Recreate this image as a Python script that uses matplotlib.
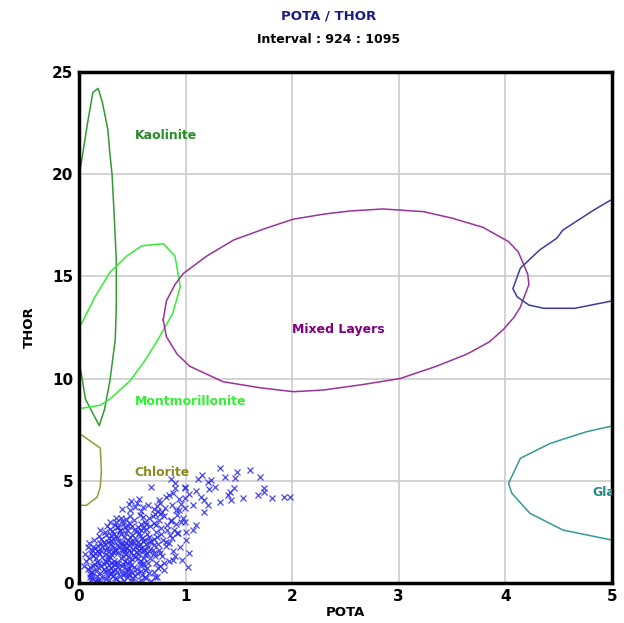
from matplotlib import pyplot as plt

# zone outlines (POTA, THOR)
kaol_x = [-0.05, 0.02, 0.08, 0.13, 0.18, 0.22, 0.27, 0.29, 0.31, 0.33, 0.35, 0.35, 0.34, 0.29, 0.24, 0.19, 0.14, 0.06, 0.02, -0.05, -0.05]
kaol_y = [19.0, 20.5, 22.5, 24.0, 24.2, 23.5, 22.2, 21.0, 20.0, 18.0, 15.8, 13.5, 11.9, 9.9, 8.5, 7.7, 8.2, 9.0, 10.3, 12.0, 19.0]

mont_x = [-0.05, 0.025, 0.15, 0.29, 0.45, 0.59, 0.79, 0.90, 0.95, 0.88, 0.74, 0.62, 0.48, 0.29, 0.20, 0.025, -0.05]
mont_y = [12.3, 12.7, 14.0, 15.2, 16.0, 16.5, 16.6, 16.0, 14.5, 13.2, 11.9, 10.9, 9.9, 9.0, 8.7, 8.55, 8.6]

chlo_x = [-0.05, 0.025, 0.20, 0.21, 0.20, 0.17, 0.07, -0.05]
chlo_y = [7.3, 7.24, 6.6, 5.5, 4.7, 4.2, 3.8, 3.8]

mixed_x = [0.79, 0.82, 0.90, 0.98, 1.20, 1.45, 1.75, 2.01, 2.30, 2.54, 2.85, 3.23, 3.50, 3.79, 4.03, 4.12, 4.17, 4.21, 4.22,
           4.14, 4.08, 3.98, 3.85, 3.64, 3.35, 3.01, 2.65, 2.29, 2.01, 1.70, 1.35, 1.04, 0.92, 0.82, 0.79]
mixed_y = [12.87, 13.8, 14.6, 15.15, 16.0, 16.78, 17.35, 17.8, 18.05, 18.2, 18.3, 18.17, 17.85, 17.4, 16.7, 16.2, 15.6, 15.1, 14.6,
           13.5, 13.0, 12.4, 11.8, 11.2, 10.6, 10.0, 9.7, 9.44, 9.36, 9.55, 9.85, 10.6, 11.2, 12.05, 12.87]

illi_x = [5.3, 5.0, 4.83, 4.54, 4.48, 4.32, 4.14, 4.07, 4.11, 4.22, 4.36, 4.65, 5.0, 5.3]
illi_y = [20.0, 18.77, 18.25, 17.27, 16.86, 16.29, 15.4, 14.4, 14.0, 13.6, 13.44, 13.44, 13.8, 14.2]

glau_x = [5.3, 5.0, 4.76, 4.42, 4.14, 4.03, 4.06, 4.23, 4.54, 5.0, 5.3]
glau_y = [8.0, 7.68, 7.4, 6.83, 6.1, 4.88, 4.39, 3.41, 2.59, 2.1, 1.8]

# log samples
pota = [0.15, 0.22, 0.28, 0.35, 0.42, 0.50, 0.58, 0.20, 0.32, 0.45, 0.55, 0.62, 0.68, 0.73, 0.38, 0.26, 0.12, 0.48,
        0.05, 0.08, 0.12, 0.18, 0.24, 0.30, 0.36, 0.40, 0.46, 0.52, 0.58, 0.64, 0.70, 0.76, 0.20, 0.28, 0.34, 0.43, 0.50, 0.60, 0.14, 0.10, 0.66, 0.80,
        0.07, 0.13, 0.17, 0.22, 0.27, 0.31, 0.35, 0.39, 0.44, 0.48, 0.53, 0.57, 0.62, 0.67, 0.72, 0.78, 0.84, 0.25, 0.33, 0.41, 0.50, 0.60, 0.16, 0.46, 0.55, 0.70, 0.90,
        0.08, 0.12, 0.18, 0.21, 0.26, 0.30, 0.34, 0.38, 0.43, 0.47, 0.51, 0.56, 0.60, 0.65, 0.70, 0.75, 0.82, 0.88, 0.24, 0.32, 0.40, 0.45, 0.54, 0.63, 0.15, 0.28, 0.58, 0.69, 0.95,
        0.14, 0.19, 0.23, 0.28, 0.33, 0.37, 0.42, 0.46, 0.50, 0.55, 0.59, 0.64, 0.68, 0.73, 0.79, 0.85, 0.30, 0.39, 0.48, 0.57, 0.62, 0.66, 0.25, 0.82,
        0.20, 0.26, 0.31, 0.36, 0.41, 0.45, 0.50, 0.54, 0.58, 0.63, 0.67, 0.72, 0.77, 0.83, 0.89, 0.47, 0.60, 0.70, 0.38, 0.55,
        0.29, 0.35, 0.40, 0.48, 0.52, 0.57, 0.62, 0.66, 0.71, 0.75, 0.80, 0.86, 0.92, 0.44, 0.60, 0.78, 0.98,
        0.40, 0.47, 0.53, 0.58, 0.65, 0.70, 0.76, 0.81, 0.87, 0.91, 0.96, 0.73,
        0.49, 0.56, 0.75, 0.82, 0.88, 0.94, 0.90, 0.86, 1.03, 1.10, 1.12,
        0.19, 0.23, 0.29, 0.37, 0.41, 0.47, 0.52, 0.21, 0.35, 0.44, 0.11, 0.09, 0.27, 0.33, 0.38, 0.53, 0.17, 0.25, 0.31, 0.44, 0.56, 0.61, 0.36, 0.26, 0.49, 0.42, 0.32, 0.38, 0.53,
        1.32, 1.48, 1.60, 1.70, 1.15, 1.37, 1.46, 1.74, 1.74, 1.68, 1.81, 1.92, 1.98, 1.54, 1.43, 1.40, 1.45, 1.42, 1.32, 1.21, 1.24, 1.28, 1.22, 1.14, 1.17, 1.21, 1.17,
        0.99, 0.99, 1.07, 0.99, 1.10, 1.07, 0.99, 1.00,
        0.68, 0.84, 0.90, 0.99, 0.54, 0.48, 0.60, 0.76, 0.72, 0.86, 0.94, 0.92, 1.00, 1.03, 1.02, 0.88, 0.76, 0.84, 0.97, 0.71, 0.54, 0.63, 0.13, 0.10, 0.11, 0.19, 0.35, 0.37,
        0.11, 0.16, 0.21, 0.24, 0.29, 0.33, 0.37, 0.40, 0.43, 0.46, 0.49, 0.51, 0.54, 0.57, 0.59, 0.61, 0.65, 0.67, 0.71, 0.74,
        0.18, 0.22, 0.27, 0.31, 0.36, 0.40, 0.44, 0.48, 0.52, 0.56, 0.60, 0.64, 0.13, 0.15, 0.20, 0.24, 0.29, 0.34, 0.39, 0.43,
        0.06, 0.09, 0.10, 0.17, 0.23, 0.30, 0.34, 0.39, 0.42, 0.45, 0.50, 0.53, 0.57, 0.62, 0.66, 0.70, 0.74, 0.77, 0.80, 0.83,
        0.87, 0.91, 0.93, 0.96, 0.27, 0.32, 0.37, 0.41, 0.47, 0.51, 0.55, 0.35, 0.19, 0.25, 0.30, 0.46, 0.58, 0.63, 0.69, 0.74]
thor = [0.10, 0.30, 0.15, 0.20, 0.10, 0.25, 0.15, 0.05, 0.35, 0.30, 0.05, 0.30, 0.12, 0.30, 0.05, 0.40, 0.25, 0.40,
        0.85, 0.70, 0.55, 0.80, 0.60, 0.75, 0.55, 0.85, 0.65, 0.80, 0.60, 0.75, 0.55, 0.85, 0.50, 0.90, 0.70, 0.50, 0.55, 0.90, 0.95, 0.45, 0.50, 0.65,
        1.10, 1.30, 1.05, 1.25, 1.15, 1.35, 1.00, 1.20, 1.40, 1.05, 1.25, 1.10, 1.35, 1.20, 1.00, 1.30, 1.10, 1.40, 1.10, 1.30, 1.15, 1.00, 1.20, 1.25, 1.40, 1.45, 1.30,
        1.75, 1.60, 1.80, 1.55, 1.70, 1.90, 1.60, 1.75, 1.55, 1.85, 1.65, 1.80, 1.55, 1.75, 1.85, 1.60, 1.80, 1.55, 1.90, 1.50, 1.90, 1.70, 1.50, 1.90, 1.70, 1.55, 1.70, 1.60, 1.75,
        2.10, 2.30, 2.00, 2.20, 2.40, 2.05, 2.25, 2.10, 2.35, 2.00, 2.20, 2.40, 2.05, 2.25, 2.10, 2.35, 2.05, 2.40, 2.00, 2.30, 2.10, 2.25, 2.35, 2.00,
        2.60, 2.80, 2.55, 2.75, 2.90, 2.60, 2.80, 2.55, 2.90, 2.65, 2.80, 2.50, 2.70, 2.85, 2.60, 2.95, 2.70, 2.95, 2.55, 2.75,
        3.00, 3.20, 3.05, 3.30, 3.10, 3.35, 3.00, 3.20, 3.40, 3.10, 3.30, 3.05, 3.35, 3.15, 3.25, 3.45, 3.20,
        3.60, 3.85, 3.70, 3.50, 3.80, 3.60, 3.90, 3.65, 3.80, 3.55, 3.85, 3.75,
        4.00, 4.10, 4.05, 4.20, 4.40, 4.10, 4.90, 5.10, 4.35, 4.50, 5.10,
        1.45, 0.95, 1.25, 1.45, 0.95, 0.75, 1.95, 2.15, 2.30, 1.95, 1.45, 1.95, 0.65, 0.95, 0.35, 0.35, 0.35, 0.20, 0.50, 0.70, 1.60, 1.20, 1.85, 1.05, 1.50, 1.65, 2.15, 2.60, 2.20,
        5.61, 5.45, 5.53, 5.20, 5.28, 5.20, 5.12, 4.63, 4.47, 4.30, 4.14, 4.22, 4.22, 4.14, 4.06, 4.30, 4.63, 4.47, 3.98, 4.96, 5.04, 4.71, 4.60, 4.22, 4.06, 3.82, 3.49,
        4.63, 4.14, 3.82, 3.66, 2.84, 2.59, 3.00, 2.50,
        4.71, 4.30, 4.63, 4.71, 3.90, 3.57, 3.74, 3.40, 2.84, 3.09, 3.58, 2.44, 2.10, 1.46, 0.80, 1.13, 1.46, 1.95, 1.13, 0.31, 0.47, 0.23, 1.77, 0.80, 0.47, 0.15, 3.00, 2.75,
        0.15, 0.60, 0.85, 1.10, 0.45, 1.55, 0.80, 1.55, 1.10, 0.45, 0.90, 1.35, 0.70, 1.90, 0.40, 1.65, 1.00, 2.00, 1.30, 0.75,
        1.55, 1.75, 2.00, 1.80, 2.20, 2.00, 2.45, 2.25, 2.60, 2.45, 2.05, 1.45, 0.85, 1.45, 1.95, 2.50, 2.65, 2.85, 3.20, 2.75,
        1.40, 1.20, 0.30, 0.15, 0.70, 1.00, 0.25, 0.60, 1.80, 1.00, 0.10, 1.75, 0.95, 0.65, 1.55, 2.15, 1.90, 2.40, 1.00, 2.60,
        2.20, 2.90, 2.45, 3.00, 1.30, 0.60, 1.00, 0.40, 1.60, 2.00, 1.20, 1.65, 1.00, 1.60, 2.35, 2.80, 2.60, 2.90, 3.30, 3.50]

zone_labels = ['Kaolinite', 'Montmorillonite', 'Chlorite', 'Mixed Layers', 'Glauconite']

fig = plt.figure(figsize=(6.24, 6.23), dpi=100)
ax = fig.add_axes([0.1266, 0.0642, 0.8542, 0.8202])

ax.plot(kaol_x, kaol_y, color='#339933', lw=1.1)
ax.plot(mont_x, mont_y, color='#33ee33', lw=1.1)
ax.plot(chlo_x, chlo_y, color='#999933', lw=1.1)
ax.plot(mixed_x, mixed_y, color='#993399', lw=1.1)
ax.plot(illi_x, illi_y, color='#3c3ca0', lw=1.1)
ax.plot(glau_x, glau_y, color='#339999', lw=1.1)

ax.plot(pota, thor, 'x', color='#2828f0', ms=5, mew=0.9, alpha=0.85)

lab = dict(fontsize=9, fontweight='bold', va='center', clip_on=True)
ax.text(0.52, 21.9, zone_labels[0], color='#268c26', **lab)
ax.text(0.52, 8.9, zone_labels[1], color='#33ee33', **lab)
ax.text(0.52, 5.4, zone_labels[2], color='#8a8a22', **lab)
ax.text(2.0, 12.4, zone_labels[3], color='#800080', **lab)
ax.text(4.82, 4.45, zone_labels[4], color='#228888', **lab)

ax.set_xlim(0, 5)
ax.set_ylim(0, 25)
ax.set_xticks([0, 1, 2, 3, 4, 5])
ax.set_yticks([0, 5, 10, 15, 20, 25])
ax.grid(True, color='#cccccc', lw=1.2)
ax.set_axisbelow(True)
ax.tick_params(length=0, labelsize=11, pad=4)
for t in ax.get_xticklabels() + ax.get_yticklabels():
    t.set_fontweight('bold')
for s in ax.spines.values():
    s.set_linewidth(2.5)
ax.set_xlabel('POTA', fontsize=9.5, fontweight='bold', labelpad=2)
ax.set_ylabel('THOR', fontsize=9.5, fontweight='bold', labelpad=12)

fig.text(0.526, 0.974, 'POTA / THOR', ha='center', va='center', fontsize=9.5, fontweight='bold', color='#1a1a8c')
fig.text(0.526, 0.936, 'Interval : 924 : 1095', ha='center', va='center', fontsize=9, fontweight='bold', color='black')

fig.savefig('out.png', dpi=100)
